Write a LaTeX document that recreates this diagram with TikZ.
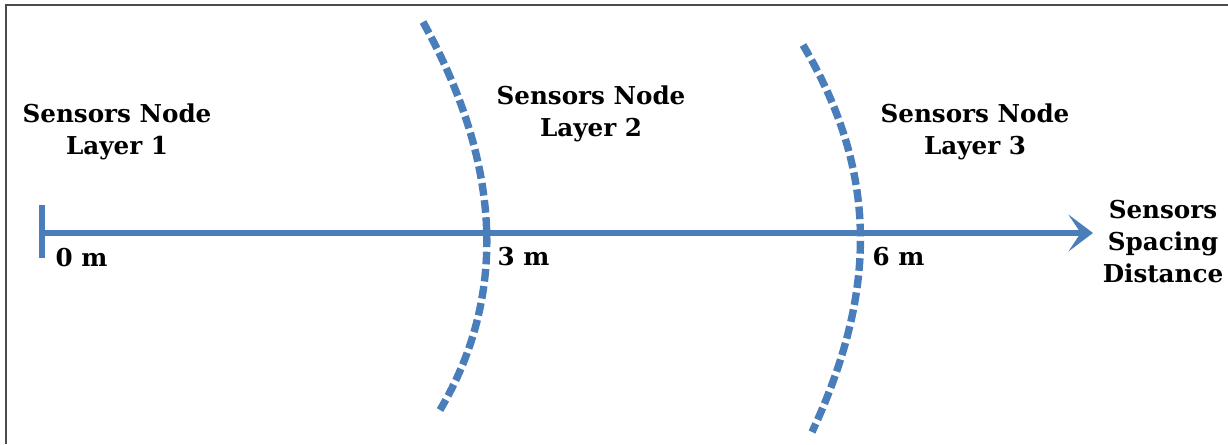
\documentclass[tikz,border=0pt]{standalone}
\usepackage{fontspec}
\setmainfont{DejaVu Serif}
\usepackage{xcolor}
\usepackage{tikz}
\usetikzlibrary{arrows.meta,positioning}
\definecolor{axisblue}{HTML}{4A7EBB}
\tikzset{
  lbl/.style={font=\bfseries\fontsize{7}{9.1}\selectfont,align=center,inner sep=0pt},
  layerline/.style={axisblue,line width=2.1pt,dash pattern=on 3.6pt off 1.3pt},
}
\begin{document}
\begin{tikzpicture}[x=0.01cm,y=-0.01cm]
  \useasboundingbox (0,0) rectangle (1228,444);
  \draw[gray!60!black,line width=0.6pt] (6,444) -- (6,5) -- (1228,5);
  \coordinate (o) at (42,233);
  \coordinate (tip) at (1093,233);
  \draw[axisblue,line width=1.7pt] (42,205) -- (42,258);
  \draw[axisblue,line width=1.7pt,-{Stealth[length=7pt,width=10.5pt,inset=3.5pt]}] (o) -- (tip);
  \draw[layerline] (423,22) .. controls (505,170) and (505,300) .. (440,410);
  \draw[layerline] (803,45) .. controls (878,172) and (878,290) .. (812,432);
  \node[lbl] (l1) at (117,132) {Sensors Node\\Layer 1};
  \node[lbl] (l2) at (591,114) {Sensors Node\\Layer 2};
  \node[lbl] (l3) at (975,132) {Sensors Node\\Layer 3};
  \node[lbl,anchor=west] (d0) at (55,258) {0 m};
  \node[lbl,anchor=west] (d3) at (497,257) {3 m};
  \node[lbl,anchor=west] (d6) at (872,257) {6 m};
  \node[lbl] (dist) at (1163,242) {Sensors\\Spacing\\Distance};
\end{tikzpicture}
\end{document}
